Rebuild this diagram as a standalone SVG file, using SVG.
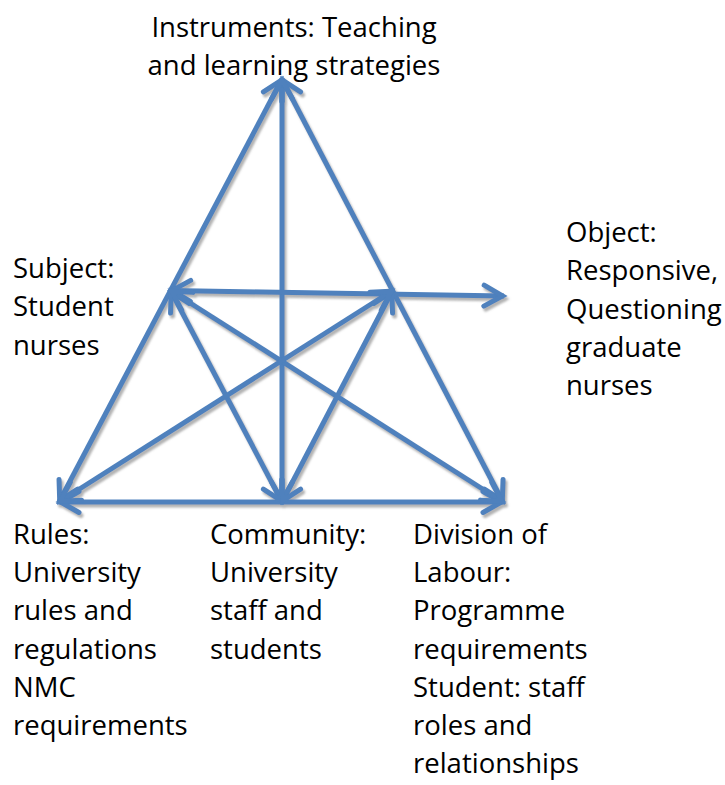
<svg xmlns="http://www.w3.org/2000/svg" width="725" height="785" viewBox="0 0 725 785">
<style>
  .lbl { font-family: "Open Sans", "Liberation Sans", sans-serif; font-size: 27.5px; fill: #000; }
  .c { fill: none; stroke: #4F81BD; stroke-width: 5; marker-start: url(#ah); marker-end: url(#ah); }
</style>
<defs>
  <marker id="ah" markerUnits="userSpaceOnUse" orient="auto-start-reverse" refX="0" refY="0" markerWidth="40" markerHeight="40" viewBox="-30 -20 40 40" overflow="visible">
    <path d="M -20,-10.5 L -1.5,0 L -20,10.5" fill="none" stroke="#4F81BD" stroke-width="5" stroke-linecap="round" stroke-linejoin="miter"/>
  </marker>
  <filter id="sh" x="-10%" y="-10%" width="120%" height="120%">
    <feDropShadow dx="2" dy="3" stdDeviation="0.8" flood-color="#808080" flood-opacity="0.6"/>
  </filter>
</defs>
<rect width="725" height="785" fill="#fff"/>
<g id="connectors" filter="url(#sh)">
  <line class="c" x1="282" y1="79" x2="59" y2="502"/>
  <line class="c" x1="282" y1="79" x2="503" y2="502"/>
  <line class="c" x1="282" y1="79" x2="282" y2="502"/>
  <line class="c" x1="59" y1="502" x2="503" y2="502"/>
  <line class="c" x1="170.5" y1="290.5" x2="504" y2="296"/>
  <line class="c" x1="170.5" y1="290.5" x2="282" y2="502"/>
  <line class="c" x1="170.5" y1="290.5" x2="503" y2="502"/>
  <line class="c" x1="392.5" y1="290.5" x2="282" y2="502"/>
  <line class="c" x1="392.5" y1="290.5" x2="59" y2="502"/>
</g>
<g id="instruments">
  <text class="lbl" x="294" y="37" text-anchor="middle">Instruments: Teaching</text>
  <text class="lbl" x="294" y="75" text-anchor="middle">and learning strategies</text>
</g>
<g id="subject">
  <text class="lbl" x="13" y="278">Subject:</text>
  <text class="lbl" x="13" y="316">Student</text>
  <text class="lbl" x="13" y="355">nurses</text>
</g>
<g id="object">
  <text class="lbl" x="566" y="242">Object:</text>
  <text class="lbl" x="566" y="280">Responsive,</text>
  <text class="lbl" x="566" y="319">Questioning</text>
  <text class="lbl" x="566" y="357">graduate</text>
  <text class="lbl" x="566" y="395">nurses</text>
</g>
<g id="rules">
  <text class="lbl" x="13" y="544">Rules:</text>
  <text class="lbl" x="13" y="582">University</text>
  <text class="lbl" x="13" y="620">rules and</text>
  <text class="lbl" x="13" y="659">regulations</text>
  <text class="lbl" x="13" y="697">NMC</text>
  <text class="lbl" x="13" y="735">requirements</text>
</g>
<g id="community">
  <text class="lbl" x="210" y="544">Community:</text>
  <text class="lbl" x="210" y="582">University</text>
  <text class="lbl" x="210" y="620">staff and</text>
  <text class="lbl" x="210" y="659">students</text>
</g>
<g id="division">
  <text class="lbl" x="413" y="544">Division of</text>
  <text class="lbl" x="413" y="582">Labour:</text>
  <text class="lbl" x="413" y="620">Programme</text>
  <text class="lbl" x="413" y="659">requirements</text>
  <text class="lbl" x="413" y="697">Student: staff</text>
  <text class="lbl" x="413" y="735">roles and</text>
  <text class="lbl" x="413" y="773">relationships</text>
</g>
</svg>
